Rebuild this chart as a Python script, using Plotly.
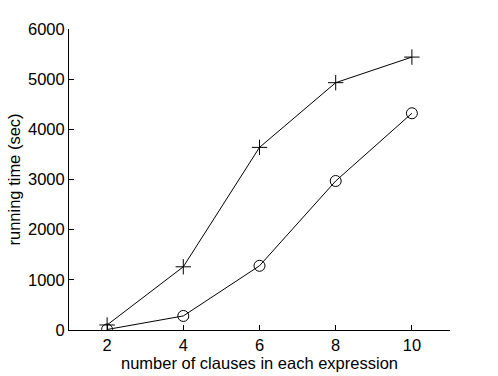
import plotly.graph_objects as go

# clauses per expression
clauses = [2, 4, 6, 8, 10]

# running time (sec) for the two methods
time_plus = [100, 1260, 3640, 4930, 5440]
time_circle = [10, 280, 1280, 2970, 4320]

y_ticks = [0, 1000, 2000, 3000, 4000, 5000, 6000]

fig = go.Figure()

fig.add_trace(go.Scatter(
    x=clauses, y=time_plus,
    mode='lines+markers',
    line=dict(color='black', width=1),
    marker=dict(symbol='cross-thin-open', size=11, color='black',
                line=dict(color='black', width=1)),
))

fig.add_trace(go.Scatter(
    x=clauses, y=time_circle,
    mode='lines+markers',
    line=dict(color='black', width=1),
    marker=dict(symbol='circle-open', size=11, color='black',
                line=dict(color='black', width=1)),
))

fig.update_layout(
    width=498, height=376,
    margin=dict(l=69, r=48, t=29, b=46),
    paper_bgcolor='white',
    plot_bgcolor='white',
    showlegend=False,
    font=dict(family='Liberation Sans, Arial, sans-serif', size=16.5, color='black'),
    xaxis=dict(
        range=[1, 11],
        tickvals=clauses,
        ticks='inside', ticklen=5, tickcolor='black',
        showline=True, linecolor='black', linewidth=1,
        showgrid=False, zeroline=False, automargin=False,
    ),
    yaxis=dict(
        range=[0, 6000],
        tickvals=y_ticks,
        ticks='inside', ticklen=5, tickcolor='black',
        showline=True, linecolor='black', linewidth=1,
        showgrid=False, zeroline=False, automargin=False,
    ),
)

# axis titles as annotations so the margins stay put
fig.add_annotation(text='number of clauses in each expression',
                   xref='paper', yref='paper', x=0.5, y=0,
                   xanchor='center', yanchor='middle', yshift=-33,
                   borderpad=0, showarrow=False)
fig.add_annotation(text='running time (sec)',
                   xref='paper', yref='paper', x=0, y=0.5,
                   xanchor='center', yanchor='middle', xshift=-56,
                   textangle=-90, borderpad=0, showarrow=False)

# page body margin would shift the whole figure by 8px
fig.write_html("out.html", config={'displayModeBar': False},
               post_script="document.body.style.margin='0';")
